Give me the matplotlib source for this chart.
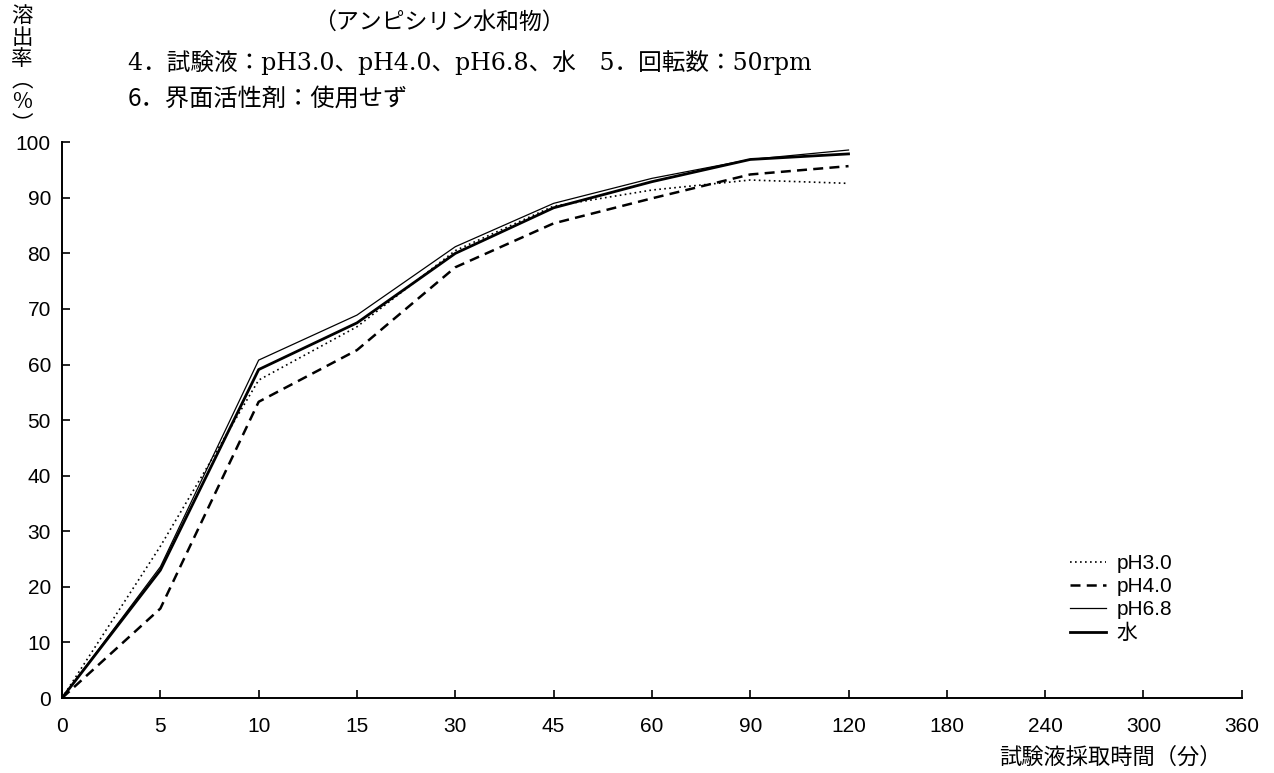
import numpy as np
import matplotlib.pyplot as plt

plt.rcParams['font.family'] = ['Liberation Sans', 'DejaVu Sans']

# sampling times (min); plotted at evenly spaced positions
times = ["0", "5", "10", "15", "30", "45", "60", "90", "120", "180", "240", "300", "360"]
n_pts = 9  # data up to 120 min

ph30 = [0, 27.3, 57.2, 66.8, 80.5, 88.5, 91.4, 93.2, 92.6]
ph40 = [0, 16.1, 53.3, 62.6, 77.5, 85.4, 89.9, 94.2, 95.7]
ph68 = [0, 23.6, 60.8, 68.9, 81.2, 89.0, 93.5, 96.9, 98.6]
water = [0, 23.0, 59.1, 67.5, 80.0, 88.2, 92.9, 96.9, 97.9]

labels = ["pH3.0", "pH4.0", "pH6.8", "水"]

fig = plt.figure(figsize=(12.74, 7.73), dpi=100)
ax = fig.add_axes([0.0487, 0.097, 0.926, 0.719])

x = np.arange(n_pts)
ax.plot(x, ph30, color="black", lw=1.2, linestyle=(0, (1, 2)), label=labels[0])
ax.plot(x, ph40, color="black", lw=1.8, linestyle=(0, (4, 2.5)), label=labels[1])
ax.plot(x, ph68, color="black", lw=0.9, label=labels[2])
ax.plot(x, water, color="black", lw=2.0, label=labels[3])

ax.set_xlim(0, len(times) - 1)
ax.set_ylim(0, 100)
ax.set_xticks(np.arange(len(times)))
ax.set_xticklabels(times)
ax.set_yticks(np.arange(0, 101, 10))
ax.tick_params(direction="in", length=6, width=1.2, labelsize=15, pad=8)
ax.tick_params(axis="x", pad=14)
for s in ["top", "right"]:
    ax.spines[s].set_visible(False)
for s in ["left", "bottom"]:
    ax.spines[s].set_linewidth(1.4)

leg = ax.legend(loc="upper left", bbox_to_anchor=(1070 / 1274, 1 - 554 / 773),
                bbox_transform=fig.transFigure, frameon=False, handlelength=1.75,
                handletextpad=0.5, labelspacing=0.2, borderpad=0, borderaxespad=0,
                prop={"family": ["Liberation Sans", "Noto Sans CJK JP"], "size": 15})

jp = ["Noto Sans CJK JP", "DejaVu Sans"]
mix = ["DejaVu Serif", "Noto Sans CJK JP"]
fig.text(313 / 1274, 1 - 22 / 773, "（アンピシリン水和物）", family=jp, fontsize=16.5,
         va="center", ha="left")
fig.text(128 / 1274, 1 - 63 / 773,
         "4．試験液：pH3.0、pH4.0、pH6.8、水　5．回転数：50rpm",
         family=mix, fontsize=17, va="center", ha="left")
fig.text(128 / 1274, 1 - 99 / 773, "6．界面活性剤：使用せず", family=jp, fontsize=17.5,
         va="center", ha="left")
fig.text(22 / 1274, 1 - 70 / 773, "溶\n出\n率\n︵\n%\n︶", family=jp, fontsize=15.5,
         va="center", ha="center", linespacing=0.98)
fig.text(1222 / 1274, 1 - 757 / 773, "試験液採取時間（分）", family=jp, fontsize=16,
         va="center", ha="right")

fig.savefig("out.png", dpi=100)
